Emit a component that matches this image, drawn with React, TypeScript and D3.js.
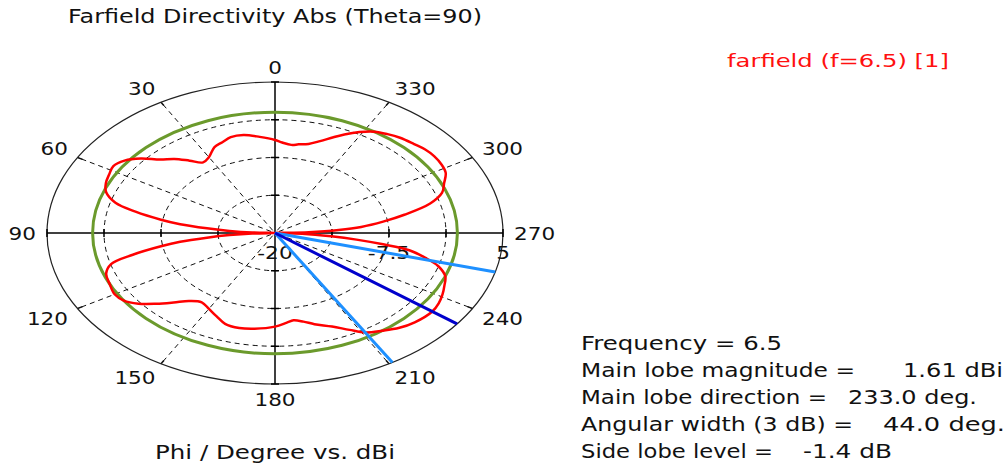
import React from "react";
import * as d3 from "d3";

const W = 1006;
const H = 466;

// Phi angles (deg) and directivity (dBi)
const phiDeg = [
  0, 6, 12, 17, 21, 25, 30, 34, 38, 42, 46, 50, 54, 58, 62, 66, 70, 74, 77, 80, 82, 84, 86, 88,
  90, 92, 94, 96, 98, 100, 103, 106, 110, 115, 120, 124, 128, 132, 136, 140, 145, 150, 155, 160,
  166, 172, 180, 185, 188, 192, 196, 202, 207, 211, 216, 221, 226, 233, 237, 241, 245, 249, 253,
  256, 259, 261, 263, 265, 268, 270, 272, 274, 276, 279, 282, 286, 290, 294, 298, 302, 306, 310,
  314, 319, 323, 327, 331, 335, 338, 342, 346, 350, 353, 357,
];
const directivityDbi = [
  -4.6, -4.0, -3.4, -3.4, -3.9, -4.3, -5.5, -5.9, -4.8, -3.5, -2.5, -0.8, 0.4, 0.9, 0.6, 0.3, -0.3,
  -1.8, -4.3, -7.3, -9.5, -12.5, -15, -17.5,
  -22, -17.5, -15, -12.5, -9.5, -7.3, -4.0, -1.3, -0.3, 0, 0.3, 0, -1.0, -2.5, -4.0, -5.3, -6.0,
  -5.5, -4.8, -4.0, -3.8, -4.0, -4.5, -5.1, -5.4, -5.0, -4.3, -3.3, -2.0, -0.8, 0, 0.8, 1.3, 1.6,
  1.4, 1.0, 0.5, 0, -1.3, -3.0, -5.0, -8.0, -11, -13.8, -17, -22, -16.3, -13, -10.5, -8, -5.5,
  -2.3, -0.5, 0.3, 1.2, 1.5, 1.6, 1.5, 1.2, 0.9, 0.5, 0, -0.9, -2.0, -2.9, -4.0, -4.8, -5.1, -5.3,
  -5.0,
];

const angleTicks = [0, 30, 60, 90, 120, 150, 180, 210, 240, 270, 300, 330];
const ringLevelsDb = [-13.75, -7.5, -1.25];
const radialLabelValues = [-20, -7.5, 5];
const radialLabelTexts = ["-20", "-7.5", "5"];
const rMinDb = -20;
const rMaxDb = 5;
const referenceLevelDb = 0;
const mainLobeDirection = 233;
const angularWidth3dB = 44;

const titleText = "Farfield Directivity Abs (Theta=90)";
const legendText = "farfield (f=6.5) [1]";
const axisText = "Phi / Degree vs. dBi";
const infoLeft = [
  "Frequency = 6.5",
  "Main lobe magnitude =",
  "Main lobe direction =",
  "Angular width (3 dB) =",
  "Side lobe level =",
];
const infoRight = ["", "1.61 dBi", "233.0 deg.", "44.0 deg.", "-1.4 dB"];
const infoLeftWidths = [201, 274, 246, 272, 192];
const infoRightX = [0, 903, 848, 883, 803];
const infoRightWidths = [0, 100, 129, 122, 89];

const FONT = "'DejaVu Sans', Verdana, sans-serif";

function Txt(props: any) {
  const { x, y, w, anchor = "start", size = 19, fill = "#111", children } = props;
  return (
    <text
      x={x}
      y={y}
      textLength={w}
      lengthAdjust="spacingAndGlyphs"
      fontFamily={FONT}
      fontSize={size}
      textAnchor={anchor}
      fill={fill}
    >
      {children}
    </text>
  );
}

function labelWidth(s: string) {
  let w = 0;
  for (const c of s) {
    if (c === "-") w += 8;
    else if (c === ".") w += 7;
    else w += 13.7;
  }
  return w;
}

export default function App() {
  const cx = 275;
  const cy = 233;
  const rx = 228;
  const ry = 151;
  const rScale = d3.scaleLinear().domain([rMinDb, rMaxDb]).range([0, 1]).clamp(true);
  const rad = (deg: number) => (deg * Math.PI) / 180;
  const pt = (phi: number, rho: number): [number, number] => [
    cx - rx * rho * Math.sin(rad(phi)),
    cy - ry * rho * Math.cos(rad(phi)),
  ];
  const sgn = (v: number) => (Math.abs(v) < 1e-6 ? 0 : Math.sign(v));

  const pts: [number, number][] = phiDeg.map((p, i) => pt(p, rScale(directivityDbi[i])));
  const line = d3.line().curve(d3.curveCatmullRomClosed.alpha(0.5));
  const redPath = line(pts) || "";

  const grid = "#111";
  const tickLen = 4;

  return (
    <svg
      width={W}
      height={H}
      style={{ position: "absolute", left: 0, top: 0, background: "#fff" }}
    >
      <rect x={0} y={0} width={W} height={H} fill="#fff" />
      {/* title */}
      <Txt x={68} y={23} w={414}>
        {titleText}
      </Txt>
      <Txt x={727} y={67} w={222} size={17} fill="#ff1010">
        {legendText}
      </Txt>

      {/* dashed rings */}
      {ringLevelsDb.map((d) => (
        <ellipse
          key={"ring" + d}
          cx={cx}
          cy={cy}
          rx={rx * rScale(d)}
          ry={ry * rScale(d)}
          fill="none"
          stroke={grid}
          strokeWidth={1}
          strokeDasharray="5 4"
        />
      ))}
      {/* dashed spokes */}
      {angleTicks
        .filter((a) => a % 90 !== 0)
        .map((a) => {
          const [x1, y1] = pt(a, 0.02);
          const [x2, y2] = pt(a, 1);
          const [x3, y3] = pt(a, 0.975);
          return (
            <g key={"sp" + a}>
              <line x1={x1} y1={y1} x2={x2} y2={y2} stroke={grid} strokeWidth={1} strokeDasharray="5 4" />
              <line x1={x3} y1={y3} x2={x2} y2={y2} stroke={grid} strokeWidth={1.5} />
            </g>
          );
        })}
      {/* outer ellipse */}
      <ellipse cx={cx} cy={cy} rx={rx} ry={ry} fill="none" stroke="#222" strokeWidth={1.2} />
      {/* axes */}
      <line x1={cx - rx} y1={cy} x2={cx + rx} y2={cy} stroke="#000" strokeWidth={1.5} />
      <line x1={cx} y1={cy - ry} x2={cx} y2={cy + ry} stroke="#000" strokeWidth={1.5} />
      {[...ringLevelsDb, rMaxDb].map((d) => {
        const f = rScale(d);
        return (
          <g key={"at" + d}>
            <line x1={cx + rx * f} y1={cy - tickLen} x2={cx + rx * f} y2={cy + tickLen} stroke="#000" strokeWidth={1.5} />
            <line x1={cx - rx * f} y1={cy - tickLen} x2={cx - rx * f} y2={cy + tickLen} stroke="#000" strokeWidth={1.5} />
            <line x1={cx - tickLen} y1={cy - ry * f} x2={cx + tickLen} y2={cy - ry * f} stroke="#000" strokeWidth={1.5} />
            <line x1={cx - tickLen} y1={cy + ry * f} x2={cx + tickLen} y2={cy + ry * f} stroke="#000" strokeWidth={1.5} />
          </g>
        );
      })}

      {/* angle labels */}
      {angleTicks.map((a) => {
        const s = String(a);
        const w = labelWidth(s);
        const g = 11;
        const sx = Math.sin(rad(a));
        const cy0 = Math.cos(rad(a));
        const x = cx - (rx + g) * sx - (w / 2) * sgn(sx);
        const y = cy - (ry + g) * cy0 - 4 * sgn(cy0);
        return (
          <Txt key={"al" + a} x={x} y={y + 6.5} w={w} anchor="middle" size={17.5}>
            {s}
          </Txt>
        );
      })}
      {/* radial labels */}
      {radialLabelValues.map((v, i) => (
        <Txt
          key={"rl" + v}
          x={cx + rx * rScale(v)}
          y={cy + 26}
          w={labelWidth(radialLabelTexts[i])}
          anchor="middle"
          size={17.5}
        >
          {radialLabelTexts[i]}
        </Txt>
      ))}

      {/* reference level */}
      <ellipse
        cx={cx}
        cy={cy}
        rx={rx * rScale(referenceLevelDb)}
        ry={ry * rScale(referenceLevelDb)}
        fill="none"
        stroke="#6b9a2c"
        strokeWidth={3}
      />
      {/* pattern */}
      <path d={redPath} fill="none" stroke="#ff0000" strokeWidth={2.5} strokeLinejoin="round" />

      {/* main lobe & beamwidth lines */}
      {[mainLobeDirection - angularWidth3dB / 2, mainLobeDirection + angularWidth3dB / 2].map((a) => {
        const [x2, y2] = pt(a, 1);
        return <line key={"bw" + a} x1={cx} y1={cy} x2={x2} y2={y2} stroke="#1e90ff" strokeWidth={3} />;
      })}
      {(() => {
        const [x2, y2] = pt(mainLobeDirection, 1);
        return <line x1={cx} y1={cy} x2={x2} y2={y2} stroke="#0000cc" strokeWidth={3} />;
      })()}

      {/* axis caption */}
      <Txt x={155} y={459} w={240}>
        {axisText}
      </Txt>

      {/* info block */}
      {infoLeft.map((t, i) => (
        <Txt key={"il" + i} x={581} y={350 + i * 27} w={infoLeftWidths[i]}>
          {t}
        </Txt>
      ))}
      {infoRight.map((t, i) =>
        t ? (
          <Txt key={"ir" + i} x={infoRightX[i]} y={350 + i * 27} w={infoRightWidths[i]}>
            {t}
          </Txt>
        ) : null
      )}
    </svg>
  );
}
